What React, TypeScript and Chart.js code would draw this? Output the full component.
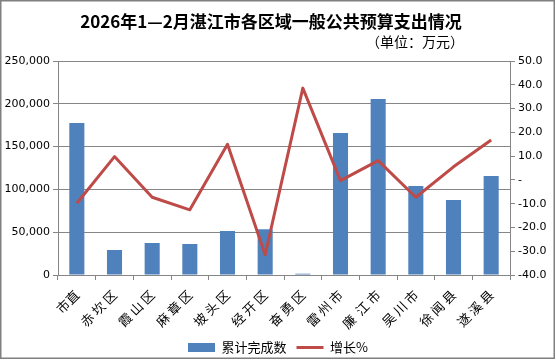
import React, { useEffect, useRef } from "react";
import { Chart, registerables } from "chart.js";

Chart.register(...registerables);

const TITLE = "2026年1—2月湛江市各区域一般公共预算支出情况";
const SUBTITLE = "（单位：万元）";
const categories = [
  "市直",
  "赤 坎 区",
  "霞 山 区",
  "麻 章 区",
  "坡 头 区",
  "经 开 区",
  "奋 勇 区",
  "雷 州 市",
  "廉  江 市",
  "吴 川 市",
  "徐 闻 县",
  "遂 溪 县",
];
const cumulative = [177600, 29200, 37400, 36200, 51400, 53400, 1500, 165900, 205600, 104000, 87600, 115700];
const growth = [-9.8, 9.8, -7.3, -12.6, 15.0, -31.5, 38.6, -0.3, 8.1, -7.3, 5.5, 16.8];
const seriesNames = ["累计完成数", "增长%"];

const BLUE = "#4F81BD";
const RED = "#BE4B48";
const GRID = "#868686";
const TICK_FONT = { family: "'DejaVu Sans', sans-serif", size: 11 };

const decorPlugin = {
  id: "decor",
  afterDraw(chart: any) {
    const ctx = chart.ctx;
    ctx.save();
    ctx.fillStyle = "#000";
    ctx.textBaseline = "middle";
    ctx.textAlign = "center";
    ctx.font = "bold 17px 'Noto Sans CJK SC', sans-serif";
    ctx.fillText(TITLE, 271, 22);
    ctx.textAlign = "right";
    ctx.font = "14px 'Noto Sans CJK SC', sans-serif";
    ctx.fillText(SUBTITLE, 464, 42);
    ctx.strokeStyle = "#808080";
    ctx.lineWidth = 1.5;
    ctx.strokeRect(0.75, 0.75, 553.5, 357.5);
    ctx.restore();
  },
};

export default function App() {
  const ref = useRef<HTMLCanvasElement>(null);
  useEffect(() => {
    document.body.style.margin = "0";
    const chart = new Chart(ref.current as HTMLCanvasElement, {
      data: {
        labels: categories,
        datasets: [
          {
            type: "line",
            label: seriesNames[1],
            data: growth,
            yAxisID: "y1",
            borderColor: RED,
            backgroundColor: RED,
            borderWidth: 3,
            pointRadius: 0,
            borderJoinStyle: "round",
            tension: 0,
            order: 0,
          },
          {
            type: "bar",
            label: seriesNames[0],
            data: cumulative,
            yAxisID: "y",
            backgroundColor: BLUE,
            borderWidth: 0,
            categoryPercentage: 1,
            barPercentage: 0.4,
            order: 1,
          },
        ],
      } as any,
      options: {
        animation: false,
        responsive: false,
        maintainAspectRatio: false,
        layout: { padding: { top: 61, left: 0, right: 0, bottom: -4 } },
        plugins: {
          tooltip: { enabled: false },
          legend: {
            position: "bottom",
            reverse: true,
            labels: {
              color: "#000",
              font: { family: "'Noto Sans CJK SC', sans-serif", size: 13 },
              usePointStyle: true,
              pointStyleWidth: 27,
              boxHeight: 9,
              padding: 10,
              generateLabels: (c: any) => {
                const items = Chart.defaults.plugins.legend.labels.generateLabels(c);
                items.forEach((it: any) => {
                  if (it.datasetIndex === 0) {
                    it.pointStyle = "line";
                    it.lineWidth = 3;
                    it.strokeStyle = RED;
                  } else {
                    it.pointStyle = "rect";
                    it.lineWidth = 0;
                  }
                });
                return items;
              },
            },
          },
        },
        scales: {
          x: {
            offset: true,
            grid: { display: true, drawOnChartArea: false, offset: true, tickLength: 5, color: GRID },
            border: { display: true, color: GRID },
            ticks: {
              color: "#000",
              font: { family: "'Noto Sans CJK SC', sans-serif", size: 13 },
              minRotation: 45,
              maxRotation: 45,
              autoSkip: false,
              padding: 7,
            },
            afterFit: (s: any) => {
              s.height = 56;
            },
          },
          y: {
            position: "left",
            min: 0,
            max: 250000,
            ticks: {
              stepSize: 50000,
              color: "#000",
              font: TICK_FONT,
              padding: 3,
              callback: (v: any) => Number(v).toLocaleString("en-US"),
            },
            grid: { color: GRID, tickLength: 5 },
            border: { display: true, color: GRID },
            afterFit: (s: any) => {
              s.width = 58;
            },
          },
          y1: {
            position: "right",
            min: -40,
            max: 50,
            ticks: {
              stepSize: 10,
              color: "#000",
              font: TICK_FONT,
              padding: 3,
              callback: (v: any) => (Number(v) === 0 ? "-" : Number(v).toFixed(1)),
            },
            grid: { drawOnChartArea: false, color: GRID, tickLength: 5 },
            border: { display: true, color: GRID },
            afterFit: (s: any) => {
              s.width = 46;
            },
          },
        },
      },
      plugins: [decorPlugin],
    } as any);
    return () => chart.destroy();
  }, []);
  return (
    <div style={{ width: 556, height: 360, background: "#fff" }}>
      <canvas ref={ref} width={556} height={360} style={{ display: "block" }} />
    </div>
  );
}
